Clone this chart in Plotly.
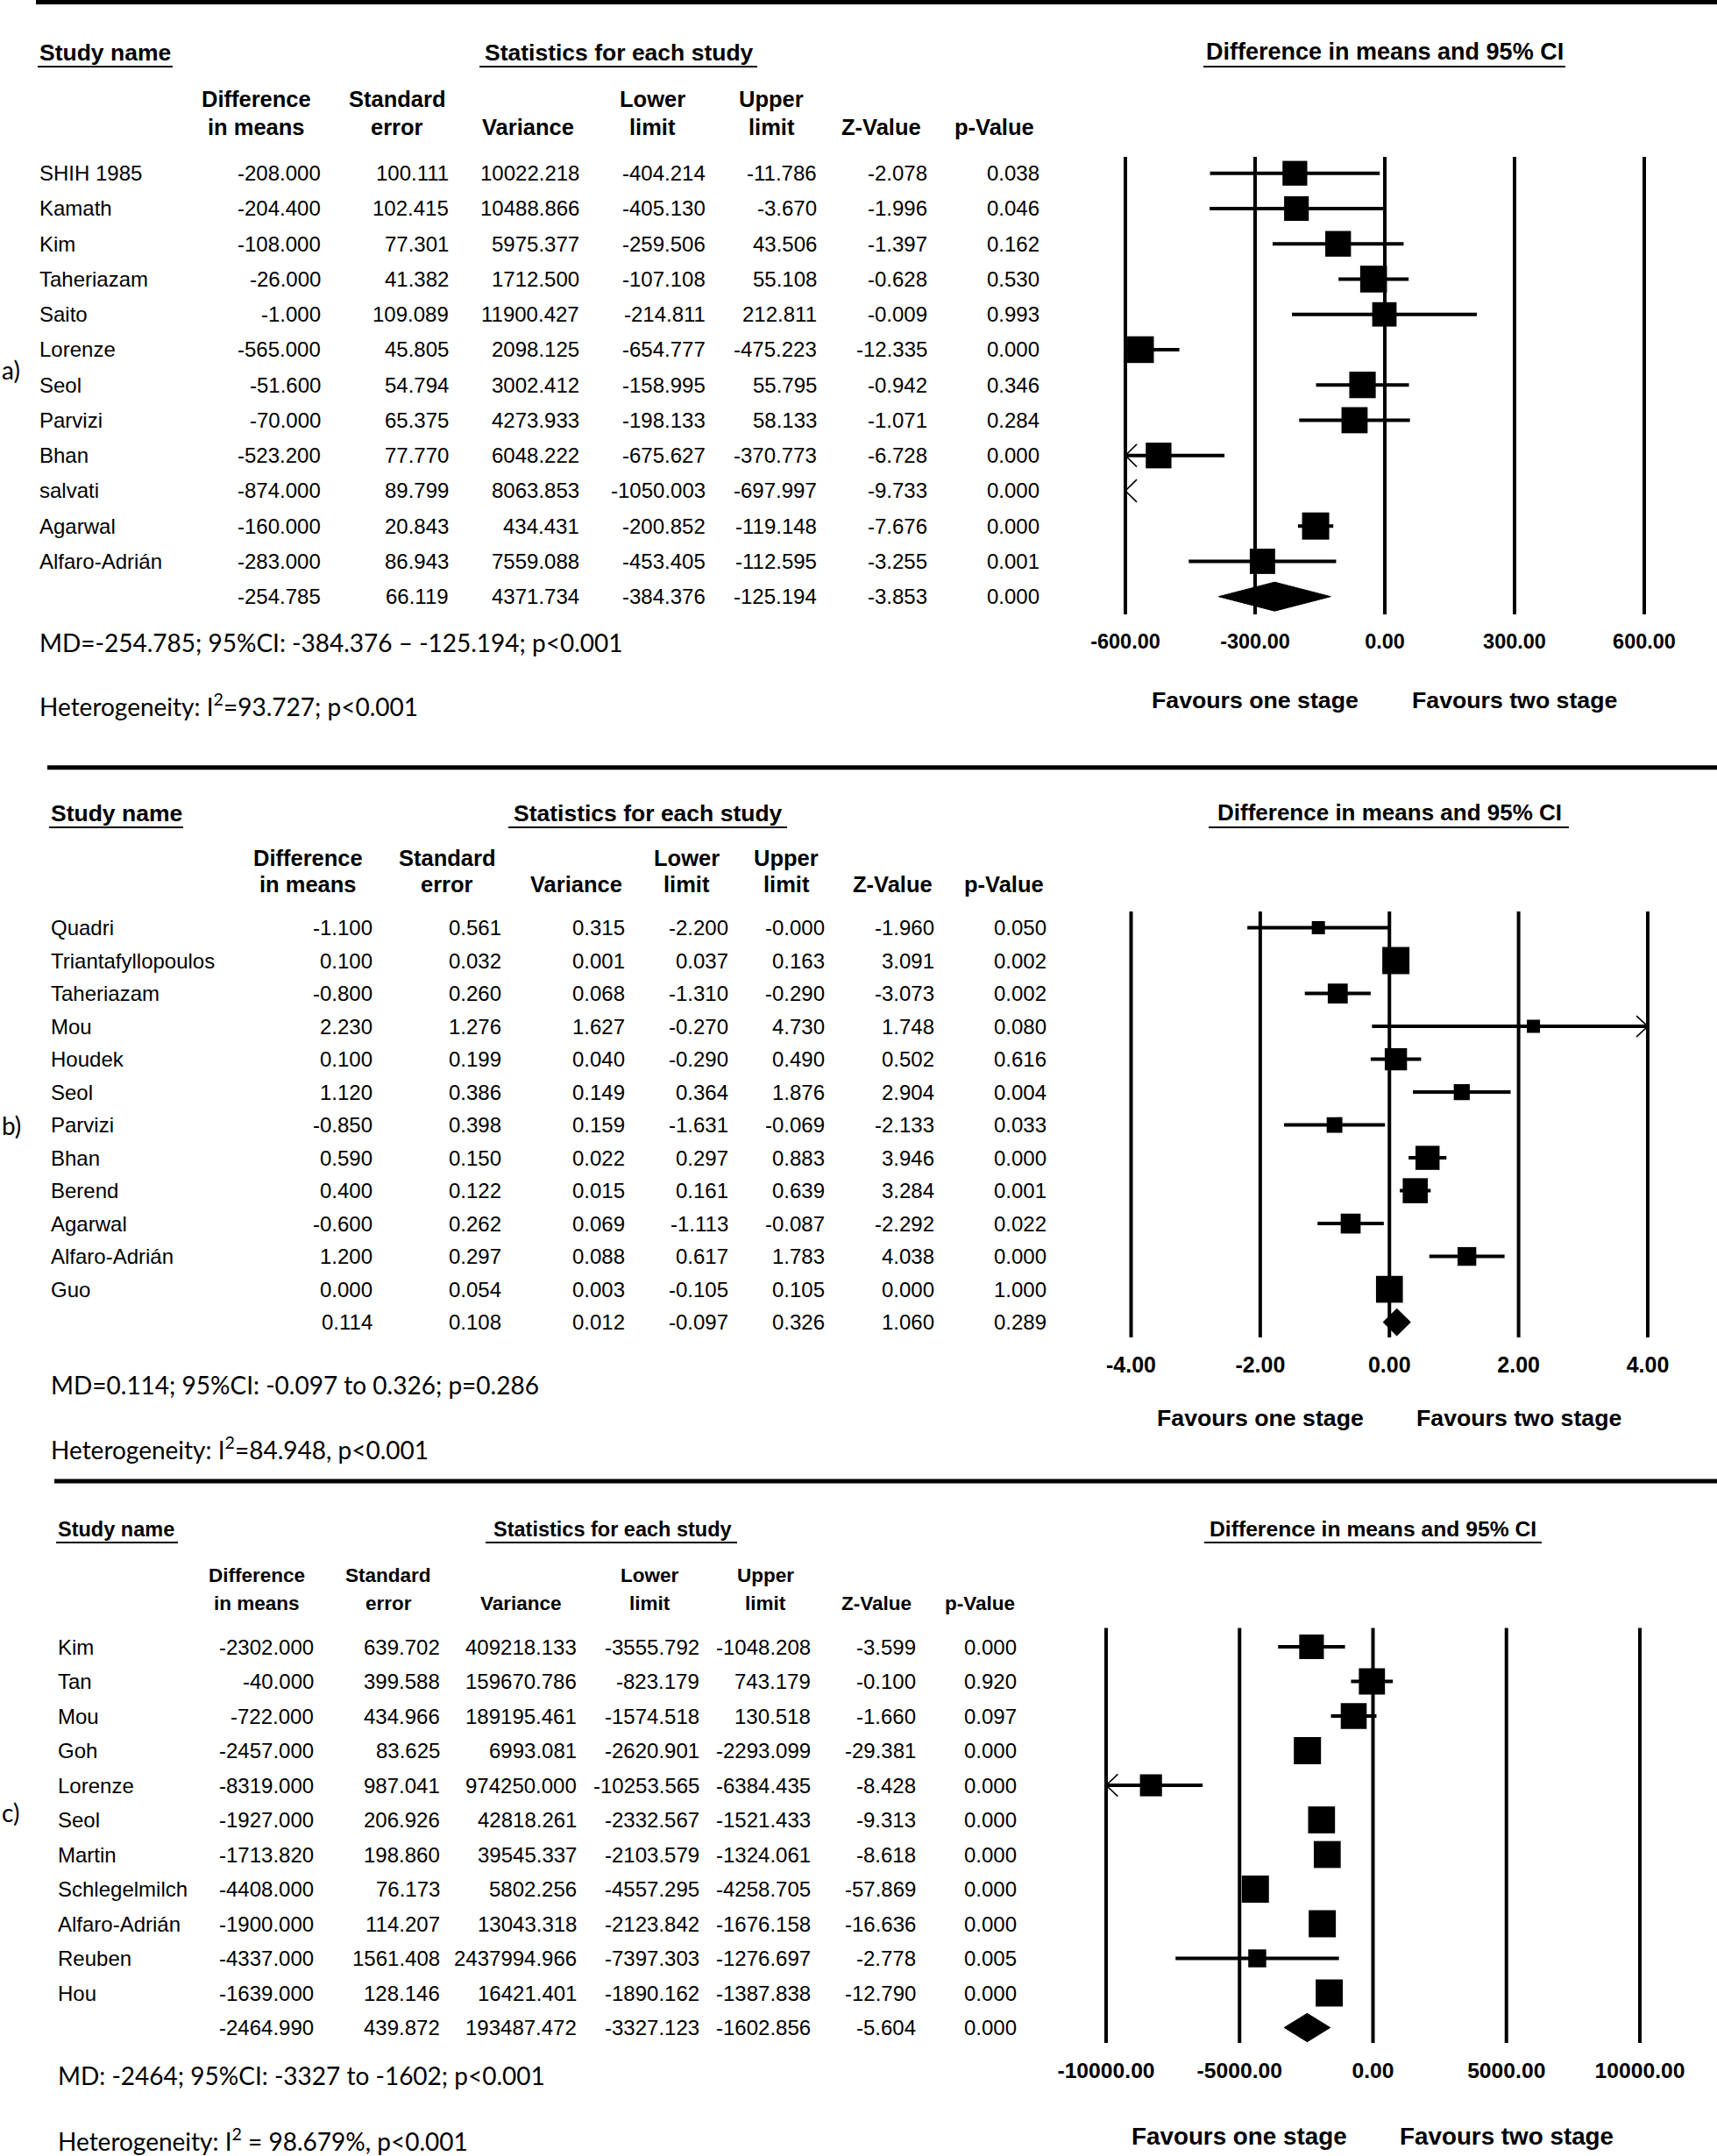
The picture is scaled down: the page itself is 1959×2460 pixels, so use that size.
import numpy as np
import plotly.graph_objects as go

W, H = 1959, 2460
FONT = "Liberation Sans, Arial, sans-serif"
CAL = "Lato, Carlito, Calibri, sans-serif"

# ---------------- a) ----------------
names_a = ["SHIH 1985", "Kamath", "Kim", "Taheriazam", "Saito", "Lorenze", "Seol",
           "Parvizi", "Bhan", "salvati", "Agarwal", "Alfaro-Adrián"]
md_a = [-208.000, -204.400, -108.000, -26.000, -1.000, -565.000, -51.600, -70.000,
        -523.200, -874.000, -160.000, -283.000]
se_a = [100.111, 102.415, 77.301, 41.382, 109.089, 45.805, 54.794, 65.375, 77.770,
        89.799, 20.843, 86.943]
var_a = [10022.218, 10488.866, 5975.377, 1712.500, 11900.427, 2098.125, 3002.412,
         4273.933, 6048.222, 8063.853, 434.431, 7559.088]
lo_a = [-404.214, -405.130, -259.506, -107.108, -214.811, -654.777, -158.995, -198.133,
        -675.627, -1050.003, -200.852, -453.405]
hi_a = [-11.786, -3.670, 43.506, 55.108, 212.811, -475.223, 55.795, 58.133, -370.773,
        -697.997, -119.148, -112.595]
z_a = [-2.078, -1.996, -1.397, -0.628, -0.009, -12.335, -0.942, -1.071, -6.728, -9.733,
       -7.676, -3.255]
p_a = [0.038, 0.046, 0.162, 0.530, 0.993, 0.000, 0.346, 0.284, 0.000, 0.000, 0.000, 0.001]
sum_a = [-254.785, 66.119, 4371.734, -384.376, -125.194, -3.853, 0.000]
ticks_a = [-600, -300, 0, 300, 600]
md_text_a = "MD=-254.785; 95%CI: -384.376 – -125.194; p<0.001"
het_text_a = "Heterogeneity: I<sup>2</sup>=93.727; p<0.001"

# ---------------- b) ----------------
names_b = ["Quadri", "Triantafyllopoulos", "Taheriazam", "Mou", "Houdek", "Seol", "Parvizi",
           "Bhan", "Berend", "Agarwal", "Alfaro-Adrián", "Guo"]
md_b = [-1.100, 0.100, -0.800, 2.230, 0.100, 1.120, -0.850, 0.590, 0.400, -0.600, 1.200, 0.000]
se_b = [0.561, 0.032, 0.260, 1.276, 0.199, 0.386, 0.398, 0.150, 0.122, 0.262, 0.297, 0.054]
var_b = [0.315, 0.001, 0.068, 1.627, 0.040, 0.149, 0.159, 0.022, 0.015, 0.069, 0.088, 0.003]
lo_b = [-2.200, 0.037, -1.310, -0.270, -0.290, 0.364, -1.631, 0.297, 0.161, -1.113, 0.617, -0.105]
hi_b = [-0.0, 0.163, -0.290, 4.730, 0.490, 1.876, -0.069, 0.883, 0.639, -0.087, 1.783, 0.105]
z_b = [-1.960, 3.091, -3.073, 1.748, 0.502, 2.904, -2.133, 3.946, 3.284, -2.292, 4.038, 0.000]
p_b = [0.050, 0.002, 0.002, 0.080, 0.616, 0.004, 0.033, 0.000, 0.001, 0.022, 0.000, 1.000]
sum_b = [0.114, 0.108, 0.012, -0.097, 0.326, 1.060, 0.289]
ticks_b = [-4, -2, 0, 2, 4]
md_text_b = "MD=0.114; 95%CI: -0.097 to 0.326; p=0.286"
het_text_b = "Heterogeneity: I<sup>2</sup>=84.948, p<0.001"

# ---------------- c) ----------------
names_c = ["Kim", "Tan", "Mou", "Goh", "Lorenze", "Seol", "Martin", "Schlegelmilch",
           "Alfaro-Adrián", "Reuben", "Hou"]
md_c = [-2302.000, -40.000, -722.000, -2457.000, -8319.000, -1927.000, -1713.820,
        -4408.000, -1900.000, -4337.000, -1639.000]
se_c = [639.702, 399.588, 434.966, 83.625, 987.041, 206.926, 198.860, 76.173, 114.207,
        1561.408, 128.146]
var_c = [409218.133, 159670.786, 189195.461, 6993.081, 974250.000, 42818.261, 39545.337,
         5802.256, 13043.318, 2437994.966, 16421.401]
lo_c = [-3555.792, -823.179, -1574.518, -2620.901, -10253.565, -2332.567, -2103.579,
        -4557.295, -2123.842, -7397.303, -1890.162]
hi_c = [-1048.208, 743.179, 130.518, -2293.099, -6384.435, -1521.433, -1324.061,
        -4258.705, -1676.158, -1276.697, -1387.838]
z_c = [-3.599, -0.100, -1.660, -29.381, -8.428, -9.313, -8.618, -57.869, -16.636, -2.778,
       -12.790]
p_c = [0.000, 0.920, 0.097, 0.000, 0.000, 0.000, 0.000, 0.000, 0.000, 0.005, 0.000]
sum_c = [-2464.990, 439.872, 193487.472, -3327.123, -1602.856, -5.604, 0.000]
ticks_c = [-10000, -5000, 0, 5000, 10000]
md_text_c = "MD: -2464; 95%CI: -3327 to -1602; p<0.001"
het_text_c = "Heterogeneity: I<sup>2</sup> = 98.679%, p<0.001"

head1 = ["Difference", "Standard", "", "Lower", "Upper", "", ""]
head2 = ["in means", "error", "Variance", "limit", "limit", "Z-Value", "p-Value"]

panels = [
    dict(label="a)", names=names_a, md=md_a, se=se_a, var=var_a, lo=lo_a, hi=hi_a, z=z_a,
         p=p_a, summ=sum_a, ticks=ticks_a, md_text=md_text_a, het_text=het_text_a,
         bar=(41, 2.5), name_x=43, study_y=60, ul_y=76, study_ul=(43, 197),
         stats_cx=706, stats_ul=(547, 864), head_y=(113, 145),
         head_cx=[292, 453, 602, 744, 880, 1005, 1134],
         col_r=[368, 514, 663, 807, 934, 1060, 1188], row0=197.7, step=40.25,
         plot_x=(1284, 1876), plot_y=(179, 701), title_cx=1580, title_ul=(1373, 1786),
         fav_y=798.6, md_y=732.5, het_y=804, lab_y=421.6, hsize=26.5, tsize=27,
         ksize=23.5, fsize=26.7),
    dict(label="b)", names=names_b, md=md_b, se=se_b, var=var_b, lo=lo_b, hi=hi_b, z=z_b,
         p=p_b, summ=sum_b, ticks=ticks_b, md_text=md_text_b, het_text=het_text_b,
         bar=(54, 875.7), name_x=56, study_y=928, ul_y=944, study_ul=(56, 209),
         stats_cx=739, stats_ul=(580, 898), head_y=(979, 1009),
         head_cx=[351, 510, 657, 783, 897, 1018, 1145],
         col_r=[426.5, 574, 715, 833, 943, 1068, 1196], row0=1058.6, step=37.5,
         plot_x=(1290.5, 1880), plot_y=(1040, 1526), title_cx=1585, title_ul=(1379, 1790),
         fav_y=1617.7, md_y=1580, het_y=1652, lab_y=1283.6, hsize=26.5, tsize=26,
         ksize=25, fsize=26.7),
    dict(label="c)", names=names_c, md=md_c, se=se_c, var=var_c, lo=lo_c, hi=hi_c, z=z_c,
         p=p_c, summ=sum_c, ticks=ticks_c, md_text=md_text_c, het_text=het_text_c,
         bar=(62, 1690), name_x=64, study_y=1745, ul_y=1760, study_ul=(64, 203),
         stats_cx=699, stats_ul=(554, 841), head_y=(1798, 1829),
         head_cx=[293, 443, 594, 741, 873, 1000, 1118],
         col_r=[360, 504, 660, 800, 927, 1047, 1162], row0=1879, step=39.5,
         plot_x=(1262, 1871), plot_y=(1857.6, 2331), title_cx=1566, title_ul=(1374, 1759),
         fav_y=2437, md_y=2368, het_y=2441, lab_y=2068, hsize=23.5, tsize=24.7,
         ksize=24.7, fsize=27.8),
]


def px(x):
    return x / W


def py(y):
    return 1 - y / H


def re_weights(est, se):
    # DerSimonian-Laird random-effects weights, used for box sizes
    est = np.asarray(est, float)
    v = np.asarray(se, float) ** 2
    w = 1 / v
    ybar = np.sum(w * est) / np.sum(w)
    q = np.sum(w * (est - ybar) ** 2)
    c = np.sum(w) - np.sum(w ** 2) / np.sum(w)
    tau2 = max(0.0, (q - (len(est) - 1)) / c)
    return 1 / (v + tau2)


fig = go.Figure()
annotations = []
shapes = []
layout_axes = {}


def add_text(x, y, s, size, xanchor="left", bold=False, family=FONT, xref="paper", yref="paper"):
    annotations.append(dict(
        x=x, y=y, xref=xref, yref=yref, text=s, showarrow=False,
        xanchor=xanchor, yanchor="middle",
        font=dict(family=family, size=size, color="black", weight="bold" if bold else "normal"),
    ))


def hline(x0, x1, y, width):
    shapes.append(dict(type="line", xref="paper", yref="paper", x0=px(x0), x1=px(x1),
                       y0=py(y), y1=py(y), line=dict(color="black", width=width)))


for k, pn in enumerate(panels, start=1):
    sfx = "" if k == 1 else str(k)
    xr, yr = "x" + sfx, "y" + sfx
    n = len(pn["names"])
    rows = np.arange(n)
    xmin, xmax = pn["ticks"][0], pn["ticks"][-1]

    # axes
    lx0, lx1 = pn["plot_x"]
    u = (xmax - xmin) / (lx1 - lx0)
    pad = 6
    ly0, ly1 = pn["plot_y"]
    ytop = (ly0 - pn["row0"]) / pn["step"]
    ybot = (ly1 - pn["row0"]) / pn["step"]
    layout_axes["xaxis" + sfx] = dict(
        domain=[px(lx0 - pad), px(lx1 + pad)], range=[xmin - pad * u, xmax + pad * u],
        anchor=yr, showgrid=False, zeroline=False, showline=False, ticks="",
        tickvals=pn["ticks"], ticktext=[f"{t:.2f}" for t in pn["ticks"]],
        tickfont=dict(family=FONT, size=pn["ksize"], color="black", weight="bold"),
        ticklabelstandoff=14, automargin=False, fixedrange=True,
    )
    layout_axes["yaxis" + sfx] = dict(
        domain=[py(ly1), py(ly0)], range=[ybot, ytop], anchor=xr,
        showgrid=False, zeroline=False, showline=False, showticklabels=False, ticks="",
        automargin=False, fixedrange=True,
    )

    # vertical reference lines
    for t in pn["ticks"]:
        shapes.append(dict(type="line", xref=xr, yref=yr + " domain", x0=t, x1=t, y0=0, y1=1,
                           layer="below", line=dict(color="black", width=4)))

    # confidence intervals, clipped to the axis, with chevrons where they run off
    lo = np.asarray(pn["lo"], float)
    hi = np.asarray(pn["hi"], float)
    ci_x, ci_y, ch_x, ch_y = [], [], [], []
    dx = 0.022 * (xmax - xmin)
    for r in rows:
        a, b = max(lo[r], xmin), min(hi[r], xmax)
        if a < b:
            ci_x += [a, b, None]
            ci_y += [r, r, None]
        if lo[r] < xmin:
            ch_x += [xmin + dx, xmin, xmin + dx, None]
            ch_y += [r - 0.32, r, r + 0.32, None]
        if hi[r] > xmax:
            ch_x += [xmax - dx, xmax, xmax - dx, None]
            ch_y += [r - 0.32, r, r + 0.32, None]
    fig.add_trace(go.Scatter(x=ci_x, y=ci_y, mode="lines", line=dict(color="black", width=4),
                             xaxis=xr, yaxis=yr, showlegend=False, hoverinfo="skip"))
    if ch_x:
        fig.add_trace(go.Scatter(x=ch_x, y=ch_y, mode="lines",
                                 line=dict(color="black", width=1.6),
                                 xaxis=xr, yaxis=yr, showlegend=False, hoverinfo="skip"))

    # study boxes sized by random-effects weight
    w = re_weights(pn["md"], pn["se"])
    sizes = np.maximum(31 * np.sqrt(w / w.max()), 15)
    fig.add_trace(go.Scatter(x=pn["md"], y=rows, mode="markers",
                             marker=dict(symbol="square", size=sizes, color="black",
                                         opacity=1, line=dict(width=0)),
                             cliponaxis=True, xaxis=xr, yaxis=yr, showlegend=False,
                             hoverinfo="skip"))

    # summary diamond
    est, s_lo, s_hi = pn["summ"][0], pn["summ"][3], pn["summ"][4]
    fig.add_trace(go.Scatter(x=[s_lo, est, s_hi, est, s_lo], y=[n, n - 0.41, n, n + 0.41, n],
                             mode="lines", fill="toself", fillcolor="black",
                             line=dict(color="black", width=1),
                             xaxis=xr, yaxis=yr, showlegend=False, hoverinfo="skip"))

    # separator bar
    hline(pn["bar"][0], W, pn["bar"][1], 5)

    # headings
    add_text(px(pn["name_x"]), py(pn["study_y"]), "Study name", pn["hsize"], bold=True)
    hline(pn["study_ul"][0], pn["study_ul"][1], pn["ul_y"], 2)
    add_text(px(pn["stats_cx"]), py(pn["study_y"]), "Statistics for each study", pn["hsize"],
             xanchor="center", bold=True)
    hline(pn["stats_ul"][0], pn["stats_ul"][1], pn["ul_y"], 2)
    add_text(px(pn["title_cx"]), py(pn["study_y"] - 1), "Difference in means and 95% CI",
             pn["tsize"], xanchor="center", bold=True)
    hline(pn["title_ul"][0], pn["title_ul"][1], pn["ul_y"], 2)
    for cx, t1, t2 in zip(pn["head_cx"], head1, head2):
        if t1:
            add_text(px(cx), py(pn["head_y"][0]), t1, pn["hsize"] - 1, xanchor="center", bold=True)
        add_text(px(cx), py(pn["head_y"][1]), t2, pn["hsize"] - 1, xanchor="center", bold=True)

    # table body
    cols = [pn["md"], pn["se"], pn["var"], pn["lo"], pn["hi"], pn["z"], pn["p"]]
    for r in rows:
        add_text(px(pn["name_x"]), r, pn["names"][r], 24, yref=yr)
        for cr, col in zip(pn["col_r"], cols):
            add_text(px(cr), r, f"{col[r]:.3f}", 24, xanchor="right", yref=yr)
    for cr, v in zip(pn["col_r"], pn["summ"]):
        add_text(px(cr), n, f"{v:.3f}", 24, xanchor="right", yref=yr)

    # favours labels under the axis
    add_text(xmin / 2, py(pn["fav_y"]), "Favours one stage", pn["fsize"], xanchor="center",
             bold=True, xref=xr)
    add_text(xmax / 2, py(pn["fav_y"]), "Favours two stage", pn["fsize"], xanchor="center",
             bold=True, xref=xr)

    # summary text
    add_text(px(pn["name_x"]), py(pn["md_y"]), pn["md_text"], 28, family=CAL)
    add_text(px(pn["name_x"]), py(pn["het_y"]), pn["het_text"], 28, family=CAL)
    add_text(px(0), py(pn["lab_y"]), pn["label"], 28, family=CAL)

fig.update_layout(
    width=W, height=H, margin=dict(l=0, r=0, t=0, b=0, pad=0, autoexpand=False),
    paper_bgcolor="white", plot_bgcolor="white",
    annotations=annotations, shapes=shapes, showlegend=False,
    **layout_axes,
)

fig.write_html("out.html", config={"displayModeBar": False},
               post_script="document.body.style.margin='0';")
